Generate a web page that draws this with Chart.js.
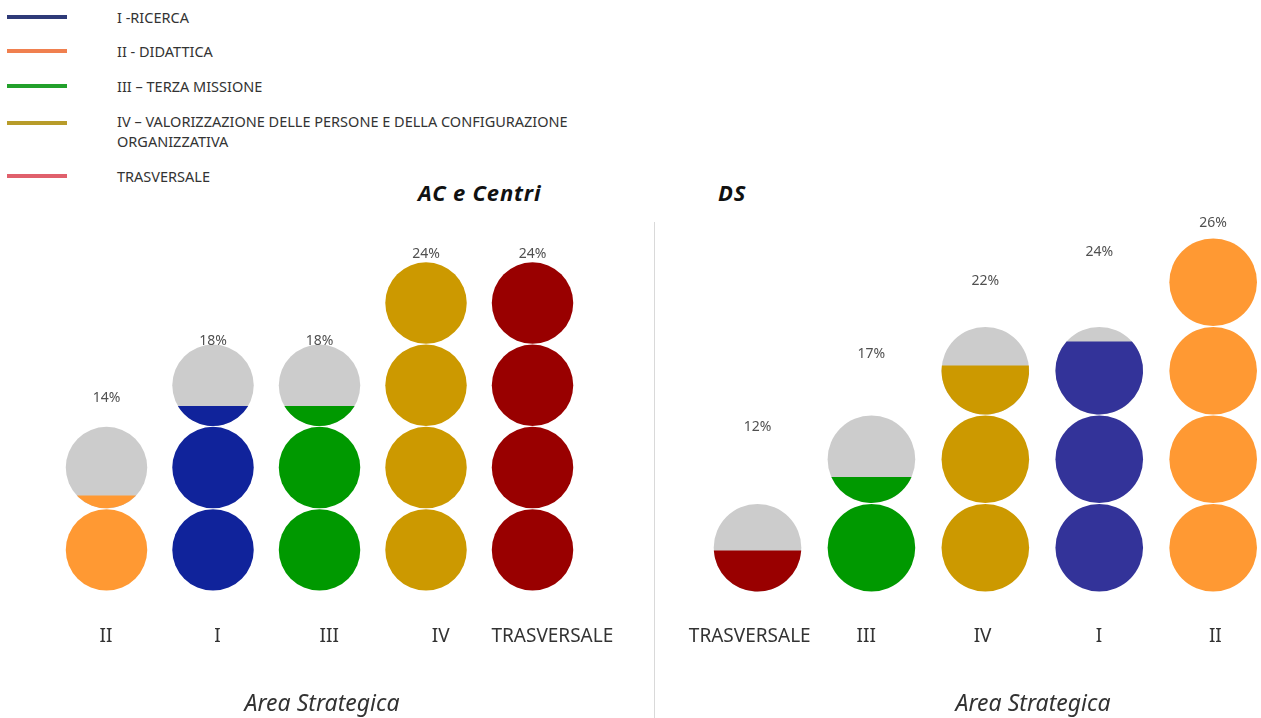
<!DOCTYPE html>
<html>
<head>
<meta charset="utf-8">
<script src="https://cdn.jsdelivr.net/npm/chart.js@4/dist/chart.umd.min.js"></script>
<style>
    html, body { margin: 0; padding: 0; background: #fff; overflow: hidden; }
    body { position: relative; width: 1261px; height: 718px; font-family: "Noto Sans", sans-serif; }
    .legend-line { position: absolute; left: 7px; width: 60px; height: 4px; }
    .legend-text { position: absolute; left: 117px; font-size: 14.5px; line-height: 20px; color: #333; }
    .title { position: absolute; font-size: 22px; letter-spacing: 0.8px; font-weight: bold; font-style: italic; color: #111; line-height: 28px; }
    .axis-title { position: absolute; width: 240px; text-align: center; font-size: 23px; font-style: italic; color: #333; line-height: 28px; }
    .box { position: absolute; top: 200px; height: 518px; }
    .sep { position: absolute; left: 654px; top: 222px; width: 1px; height: 496px; background: #d9d9d9; z-index: 2; }
</style>
</head>
<body>
<div class="legend-line" style="top:15px;background:#2e3a78"></div>
<div class="legend-text" style="top:7px">I -RICERCA</div>
<div class="legend-line" style="top:49px;background:#f0804f"></div>
<div class="legend-text" style="top:41px">II - DIDATTICA</div>
<div class="legend-line" style="top:84px;background:#22a02b"></div>
<div class="legend-text" style="top:76px">III – TERZA MISSIONE</div>
<div class="legend-line" style="top:121px;background:#b89c2a"></div>
<div class="legend-text" style="top:111px">IV – VALORIZZAZIONE DELLE PERSONE E DELLA CONFIGURAZIONE<br>ORGANIZZATIVA</div>
<div class="legend-line" style="top:174px;background:#e0606c"></div>
<div class="legend-text" style="top:166px">TRASVERSALE</div>

<div class="title" style="left:418px;top:178px">AC e Centri</div>
<div class="title" style="left:718px;top:178px">DS</div>

<div class="box" style="left:0;width:655px"><canvas id="leftChart"></canvas></div>
<div class="box" style="left:655px;width:606px"><canvas id="rightChart"></canvas></div>
<div class="sep"></div>

<div class="axis-title" style="left:202px;top:688px">Area Strategica</div>
<div class="axis-title" style="left:913px;top:688px">Area Strategica</div>

<script>
const leftCategories = ["II", "I", "III", "IV", "TRASVERSALE"];
const leftPercent = [14, 18, 18, 24, 24];
const leftFilled = [1.16, 2.25, 2.25, 4, 4];
const leftColors = ["#ff9933", "#10239b", "#009900", "#cc9900", "#990000"];

const rightCategories = ["TRASVERSALE", "III", "IV", "I", "II"];
const rightPercent = [12, 17, 22, 24, 26];
const rightFilled = [0.47, 1.3, 2.56, 2.83, 4];
const rightColors = ["#990000", "#009900", "#cc9900", "#333399", "#ff9933"];

const emptyColor = "#cccccc";
const fontFamily = '"Noto Sans", sans-serif';

Chart.defaults.font.family = fontFamily;

function circlePoints(filled) {
    const pts = [];
    filled.forEach((n, i) => {
        for (let k = 0; k < Math.ceil(n); k++) {
            pts.push({ x: i, y: k + 0.5, row: k, fill: Math.min(1, n - k) });
        }
    });
    return pts;
}

function circleRadius(chart) {
    const ys = chart.scales.y;
    return Math.abs(ys.getPixelForValue(1) - ys.getPixelForValue(0)) * 0.495;
}

function makeChart(id, categories, percent, filled, colors, ranges) {
    const pictogram = {
        id: "pictogram",
        afterDatasetsDraw(chart) {
            const ctx = chart.ctx;
            const ys = chart.scales.y;
            const r = circleRadius(chart);
            const circles = chart.data.datasets[0].data;

            // coloured bottom part of the partly filled circles
            chart.getDatasetMeta(0).data.forEach((pt, i) => {
                const d = circles[i];
                if (d.fill >= 1) return;
                const cut = ys.getPixelForValue(d.row + d.fill);
                const a = Math.asin(Math.max(-1, Math.min(1, (cut - pt.y) / r)));
                ctx.save();
                ctx.fillStyle = colors[d.x];
                ctx.beginPath();
                ctx.arc(pt.x, pt.y, r, a, Math.PI - a, false);
                ctx.closePath();
                ctx.fill();
                ctx.restore();
            });

            // percentage labels
            const labels = chart.data.datasets[1].data;
            ctx.save();
            ctx.font = "14px " + fontFamily;
            ctx.fillStyle = "#505050";
            ctx.textAlign = "center";
            ctx.textBaseline = "middle";
            chart.getDatasetMeta(1).data.forEach((pt, i) => {
                ctx.fillText(labels[i].y + "%", pt.x, pt.y);
            });
            ctx.restore();
        },
    };

    return new Chart(document.getElementById(id), {
        type: "scatter",
        data: {
            datasets: [
                {
                    data: circlePoints(filled),
                    xAxisID: "x",
                    yAxisID: "y",
                    clip: false,
                    borderWidth: 0,
                    pointRadius: (c) => circleRadius(c.chart),
                    pointHoverRadius: (c) => circleRadius(c.chart),
                    backgroundColor: (c) => (c.raw && c.raw.fill >= 1 ? colors[c.raw.x] : emptyColor),
                },
                {
                    data: percent.map((v, i) => ({ x: i, y: v })),
                    xAxisID: "x",
                    yAxisID: "p",
                    pointRadius: 0,
                    pointHoverRadius: 0,
                },
            ],
        },
        options: {
            responsive: true,
            maintainAspectRatio: false,
            animation: false,
            events: [],
            layout: { padding: { top: 22, bottom: 43, left: 0, right: 0 } },
            plugins: {
                legend: { display: false },
                tooltip: { enabled: false },
            },
            scales: {
                x: { type: "linear", display: false, bounds: "data", min: ranges.x[0], max: ranges.x[1] },
                xt: {
                    type: "linear",
                    position: "bottom",
                    bounds: "data",
                    min: ranges.xt[0],
                    max: ranges.xt[1],
                    grid: { display: false, drawTicks: false },
                    border: { display: false },
                    afterBuildTicks: (axis) => {
                        axis.ticks = categories.map((c, i) => ({ value: i }));
                    },
                    ticks: {
                        callback: (v) => categories[v],
                        autoSkip: false,
                        maxRotation: 0,
                        minRotation: 0,
                        padding: 26.6,
                        color: "#333",
                        font: { size: 19 },
                    },
                },
                y: { display: false, bounds: "data", min: ranges.y[0], max: ranges.y[1] },
                p: { display: false, bounds: "data", min: ranges.p[0], max: ranges.p[1] },
            },
        },
        plugins: [pictogram],
    });
}

makeChart("leftChart", leftCategories, leftPercent, leftFilled, leftColors, {
    x: [-1, 5.15],
    xt: [-0.95, 4.92],
    y: [-0.097, 4.485],
    p: [0.14, 26.2],
});

makeChart("rightChart", rightCategories, rightPercent, rightFilled, rightColors, {
    x: [-0.9, 4.42],
    xt: [-0.814, 4.392],
    y: [-0.079, 4.18],
    p: [0.24, 26.04],
});
</script>
</body>
</html>
